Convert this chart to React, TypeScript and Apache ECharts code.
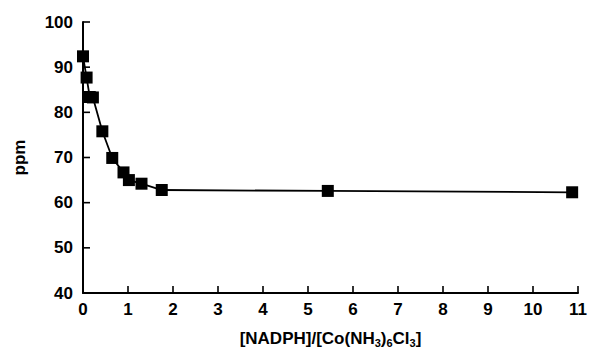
import React, { useEffect, useRef } from "react";
import * as echarts from "echarts";

const ratio = [0, 0.08, 0.15, 0.22, 0.43, 0.65, 0.9, 1.02, 1.3, 1.75, 5.44, 10.87];
const ppm = [92.4, 87.7, 83.4, 83.3, 75.8, 69.9, 66.7, 65.0, 64.2, 62.8, 62.6, 62.3];
const xTicks = [0, 1, 2, 3, 4, 5, 6, 7, 8, 9, 10, 11];
const yTicks = [40, 50, 60, 70, 80, 90, 100];

export default function App() {
  const ref = useRef<HTMLDivElement>(null);
  useEffect(() => {
    const chart = echarts.init(ref.current!, null, { renderer: "svg" });
    const font = "'Liberation Sans', Arial, sans-serif";
    const tickLen = 7;
    chart.setOption({
      animation: false,
      backgroundColor: "#ffffff",
      grid: { left: 83, right: 13, top: 22, bottom: 57 },
      xAxis: {
        type: "value",
        min: xTicks[0],
        max: xTicks[xTicks.length - 1],
        interval: 1,
        name: "{n|[NADPH]/[Co(NH}{s|3}{n|)}{s|6}{n|Cl}{s|3}{n|]}",
        nameLocation: "middle",
        nameGap: 35,
        nameTextStyle: {
          rich: {
            n: { fontFamily: font, fontWeight: "bold", fontSize: 17, color: "#000", lineHeight: 20 },
            s: { fontFamily: font, fontWeight: "bold", fontSize: 11, color: "#000", lineHeight: 20, padding: [9, 0, 0, 0] },
          },
        },
        axisLine: { show: true, onZero: false, lineStyle: { color: "#000", width: 2 } },
        axisTick: { show: false },
        axisLabel: { color: "#000", fontFamily: font, fontWeight: "bold", fontSize: 17, margin: 8 },
        splitLine: { show: false },
      },
      yAxis: {
        type: "value",
        min: yTicks[0],
        max: yTicks[yTicks.length - 1],
        interval: 10,
        name: "ppm",
        nameLocation: "middle",
        nameGap: 55,
        nameRotate: 90,
        nameTextStyle: { color: "#000", fontFamily: font, fontWeight: "bold", fontSize: 17 },
        axisLine: { show: true, onZero: false, lineStyle: { color: "#000", width: 2 } },
        axisTick: { show: false },
        axisLabel: { color: "#000", fontFamily: font, fontWeight: "bold", fontSize: 17, margin: 10 },
        splitLine: { show: false },
      },
      series: [
        {
          type: "custom",
          silent: true,
          clip: false,
          z: 5,
          data: xTicks.map((v) => [v, yTicks[0]]),
          renderItem: (params: any, api: any) => {
            const p = api.coord([api.value(0), api.value(1)]);
            return {
              type: "line",
              shape: { x1: p[0], y1: p[1], x2: p[0], y2: p[1] - tickLen },
              style: { stroke: "#000", lineWidth: 1.6 },
            };
          },
        },
        {
          type: "custom",
          silent: true,
          clip: false,
          z: 5,
          data: yTicks.map((v) => [xTicks[0], v]),
          renderItem: (params: any, api: any) => {
            const p = api.coord([api.value(0), api.value(1)]);
            return {
              type: "line",
              shape: { x1: p[0], y1: p[1], x2: p[0] + tickLen, y2: p[1] },
              style: { stroke: "#000", lineWidth: 1.6 },
            };
          },
        },
        {
          type: "line",
          z: 10,
          data: ratio.map((x, i) => [x, ppm[i]]),
          symbol: "rect",
          symbolSize: 12,
          itemStyle: { color: "#000" },
          lineStyle: { color: "#000", width: 1.8 },
        },
      ],
    });
    return () => chart.dispose();
  }, []);
  return <div ref={ref} style={{ width: 591, height: 353, position: "absolute", left: 0, top: 0 }} />;
}
